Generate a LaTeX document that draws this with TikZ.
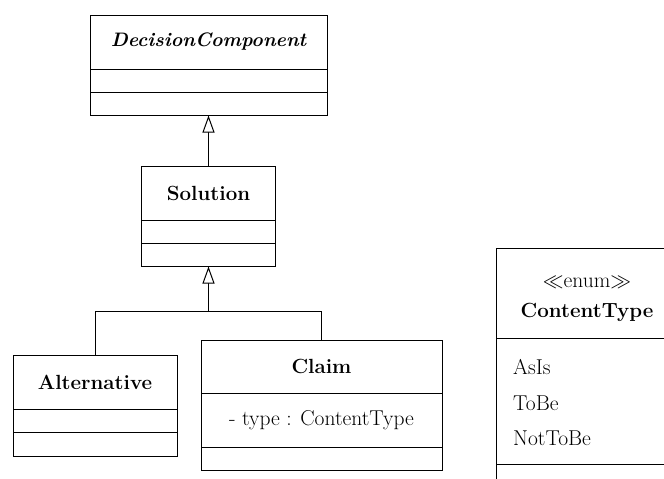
\documentclass[tikz,border=0pt]{standalone}
\usetikzlibrary{arrows.meta,calc}
\begin{document}
\begin{tikzpicture}[x=1pt,y=-1pt,
  umlbox/.style={draw,line width=1pt,inner sep=0pt,minimum width=#1},
  sepline/.style={line width=1pt},
  clsname/.style={font=\fontsize{20.5}{24}\selectfont\bfseries,inner sep=0pt},
  attrtext/.style={font=\fontsize{21.5}{26}\selectfont,inner sep=0pt},
  gen/.style={line width=1pt,-{Triangle[open,length=17pt,width=12pt,fill=white]}},
  assoc/.style={line width=1pt}]
\clip (0,0) rectangle (664,479);
\useasboundingbox (0,0) rectangle (664,479);

% DecisionComponent (abstract)
\node[umlbox=237pt,minimum height=100pt] (dc) at (208.5,65) {};
\node[clsname,font=\fontsize{19.5}{24}\selectfont\bfseries\itshape] (dcname) at (208.5,42) {DecisionComponent};
\draw[sepline] (90,69) -- (327,69);
\draw[sepline] (90,92) -- (327,92);

% Solution
\node[umlbox=134pt,minimum height=100pt] (sol) at (208.5,216) {};
\node[clsname] (solname) at (208.5,193) {Solution};
\draw[sepline] (141.5,220) -- (275.5,220);
\draw[sepline] (141.5,243) -- (275.5,243);

% Alternative
\node[umlbox=164pt,minimum height=101pt] (alt) at (95,405.5) {};
\node[clsname] (altname) at (95,382) {Alternative};
\draw[sepline] (13,409) -- (177,409);
\draw[sepline] (13,432) -- (177,432);

% Claim
\node[umlbox=241pt,minimum height=130pt] (claim) at (321.5,405) {};
\node[clsname] (claimname) at (321.5,366) {Claim};
\node[attrtext] (claimattr) at (321.5,420) {- type : ContentType};
\draw[sepline] (201,393) -- (442,393);
\draw[sepline] (201,447) -- (442,447);

% ContentType enumeration
\node[umlbox=182pt,minimum height=252pt] (ct) at (587,374) {};
\node[attrtext] (ctstereo) at (587,282) {$\ll$enum$\gg$};
\node[clsname] (ctname) at (587,312) {ContentType};
\draw[sepline] (496,338) -- (678,338);
\node[attrtext,anchor=west] (lit1) at (513,367) {AsIs};
\node[attrtext,anchor=west] (lit2) at (513,403) {ToBe};
\node[attrtext,anchor=west] (lit3) at (513,438) {NotToBe};
\draw[sepline] (496,464) -- (678,464);

% Generalizations
\draw[gen] (sol.north) -- (dc.south);
\coordinate (j) at (208.5,311);
\draw[assoc] (alt.north) -- (alt.north |- j) -- (claim.north |- j) -- (claim.north);
\draw[gen] (j) -- (sol.south);
\end{tikzpicture}
\end{document}
